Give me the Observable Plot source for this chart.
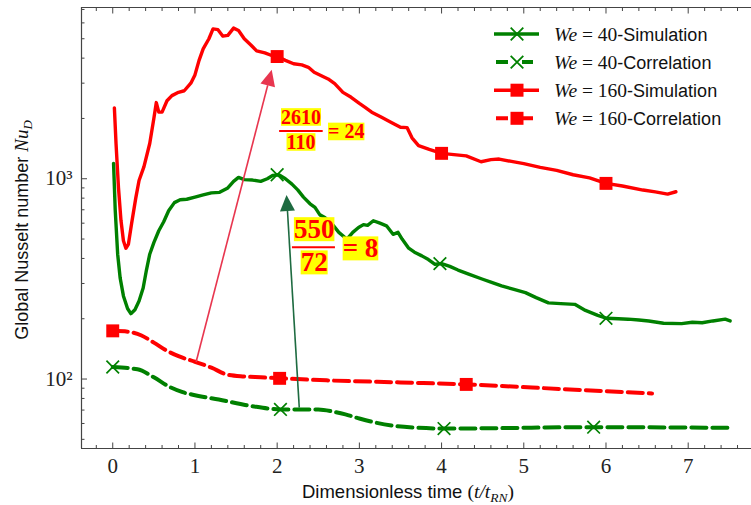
<!DOCTYPE html>
<html><head><meta charset="utf-8">
<script src="https://cdn.jsdelivr.net/npm/d3@7"></script>
<script src="https://cdn.jsdelivr.net/npm/@observablehq/plot@0.6"></script>
<style>
body{margin:0;background:#fff;}
#chart svg{display:block;}
g[aria-label="x-axis tick label"] text, g[aria-label="y-axis tick label"] text{font-family:"Liberation Serif",serif;font-size:21px;fill:#222;}
</style></head><body><div id="chart"></div>
<script>
// ---- data ----
const redSimX = [0.02,0.04,0.07,0.10,0.13,0.16,0.19,0.23,0.28,0.32,0.38,0.45,0.50,0.53,0.56,0.60,0.66,0.72,0.80,0.87,0.95,1.00,1.05,1.10,1.17,1.22,1.28,1.34,1.40,1.47,1.53,1.60,1.68,1.75,1.85,1.95,2.00,2.10,2.20,2.30,2.38,2.45,2.55,2.62,2.70,2.80,2.90,3.00,3.07,3.15,3.27,3.40,3.50,3.58,3.64,3.72,3.85,4.00,4.15,4.30,4.48,4.60,4.70,4.85,5.00,5.20,5.40,5.60,5.80,6.00,6.20,6.45,6.60,6.75,6.85];
const redSimY = [2258,1500,900,620,490,450,470,600,800,980,1150,1500,2000,2400,2150,2150,2450,2600,2700,2750,3000,3300,3900,4450,5000,5600,5550,5150,5200,5650,5500,5000,4650,4350,4250,4100,4074,3900,3750,3700,3600,3400,3250,3150,2985,2700,2550,2380,2273,2150,2026,1900,1806,1800,1600,1462,1400,1339,1320,1300,1216,1245,1254,1220,1190,1139,1100,1047,1010,948,920,878,860,838,861];
const greenSimX = [0.01,0.03,0.06,0.09,0.13,0.18,0.22,0.27,0.32,0.37,0.41,0.45,0.50,0.56,0.62,0.68,0.75,0.82,0.90,1.00,1.10,1.20,1.30,1.40,1.47,1.53,1.60,1.70,1.80,1.88,1.95,2.02,2.10,2.18,2.25,2.32,2.40,2.46,2.52,2.58,2.66,2.75,2.85,2.92,2.99,3.05,3.10,3.17,3.25,3.33,3.41,3.47,3.52,3.60,3.67,3.76,3.84,3.92,4.00,4.10,4.20,4.33,4.50,4.60,4.73,4.88,5.02,5.15,5.30,5.45,5.62,5.75,5.90,6.01,6.15,6.27,6.40,6.52,6.70,6.92,7.05,7.17,7.30,7.45,7.51];
const greenSimY = [1193,700,420,320,260,225,212,222,245,285,350,420,480,550,610,692,760,785,790,810,830,850,855,900,970,1015,990,985,970,1000,1040,1047,1000,940,880,810,750,719,660,641,600,540,499,540,571,590,585,617,600,582,528,540,500,450,430,412,395,374,377,365,350,334,315,305,292,280,270,255,240,238,236,220,208,201,200,199,197,195,190,189,192,191,195,199,195];
const redCorX = [0.00,0.20,0.35,0.50,0.65,0.80,1.00,1.20,1.40,1.60,1.80,2.05,2.60,3.50,4.30,5.50,6.56];
const redCorY = [174,172,165,152,139,130,122,114,105,103,102,100.8,98.5,96.2,94,89,84.8];
const greenCorX = [0.00,0.30,0.50,0.70,0.85,1.00,1.29,1.69,2.05,2.50,2.70,2.83,3.00,3.15,3.40,3.72,4.04,5.87,7.49];
const greenCorY = [114.8,111.8,102,91,86,83,79,73.3,70.5,70.5,68.5,66.6,63.5,61.2,58.5,57.1,56.6,57.5,57.1];

// marker positions
const redSimMX = [2.00, 4.00, 6.00],  redSimMY = [4074, 1339, 948];
const greenSimMX = [2.00, 3.98, 6.00], greenSimMY = [1047, 377, 201];
const redCorMX = [0.00, 2.03, 4.30], redCorMY = [174, 100.8, 94];
const greenCorMX = [0.00, 2.04, 4.03, 5.85], greenCorMY = [114.8, 70.5, 56.6, 57.5];

// legend
const legendWe = ["40", "40", "160", "160"];
const legendKind = ["Simulation", "Correlation", "Simulation", "Correlation"];

// annotation arrows (tail -> tip)
const arrowX1 = [1.02, 2.275], arrowY1 = [121, 71.6];
const arrowX2 = [1.94, 2.12],  arrowY2 = [3479, 825];

// annotation fractions
const annNum = ["2610", "550"], annDen = ["110", "72"], annRes = ["= 24", "= 8"];
const annX = [2.29, 2.45], annY = [1730, 455];
const annBarX1 = [2.03, 2.186], annBarX2 = [2.56, 2.709];

// ticks
const xMajor = [0,1,2,3,4,5,6,7];
const xTickLabels = ["0","1","2","3","4","5","6","7"];
const xMinor = d3.range(-1, 39).map(i => +(i*0.2).toFixed(1)).filter(v => Math.abs(v - Math.round(v)) > 1e-6);
const yMajor = [100, 1000];
const yTickLabels = ["10\u00B2", "10\u00B3"];
const yMinor = [50,60,70,80,90,200,300,400,500,600,700,800,900,2000,3000,4000,5000,6000,7000];

const xDomain = [-0.38, 7.77];
const yDomain = [45, 7160];

// ---- build ----
const rows = (xs, ys) => xs.map((x, i) => ({x, y: ys[i]}));
const arrows = arrowX1.map((x1, i) => ({x1, y1: arrowY1[i], x2: arrowX2[i], y2: arrowY2[i], color: ["#e8364f", "#1e6b41"][i]}));
const ann = annNum.map((n, i) => ({num: n, den: annDen[i], res: annRes[i], x: annX[i], y: annY[i], bx1: annBarX1[i], bx2: annBarX2[i]}));

const RED = "#ff0000", GREEN = "#008000";
const dash = "15,6";

function arrowRender(index, scales, values) {
  const g = d3.create("svg:g");
  for (const i of index) {
    const x1 = values.x1[i], y1 = values.y1[i], x2 = values.x2[i], y2 = values.y2[i];
    const dx = x2 - x1, dy = y2 - y1, L = Math.hypot(dx, dy), ux = dx / L, uy = dy / L;
    const hl = 16, hw = 7.5;
    const bx = x2 - ux * hl, by = y2 - uy * hl;
    const c = arrows[i].color;
    g.append("line").attr("x1", x1).attr("y1", y1).attr("x2", bx).attr("y2", by)
      .attr("stroke", c).attr("stroke-width", 1.6);
    g.append("path").attr("d", `M${x2},${y2}L${bx - uy * hw},${by + ux * hw}L${bx + uy * hw},${by - ux * hw}Z`).attr("fill", c);
  }
  return g.node();
}

const annFont = "Liberation Serif";
const plot = Plot.plot({
  width: 751, height: 505,
  marginLeft: 81, marginRight: 0, marginTop: 7, marginBottom: 57,
  x: {domain: xDomain, label: null},
  y: {type: "log", domain: yDomain, label: null},
  style: {background: "white", fontFamily: "Liberation Serif", overflow: "visible"},
  marks: [
    // spines
    Plot.ruleX([xDomain[0]], {stroke: "#444", strokeWidth: 1.2}),
    Plot.ruleY(yDomain, {stroke: "#444", strokeWidth: 1.2}),
    // inward ticks
    Plot.axisX({anchor: "bottom", ticks: xMinor, tickSize: -3, tickFormat: () => "", stroke: "#444"}),
    Plot.axisX({anchor: "bottom", ticks: xMajor, tickSize: -5.5, tickFormat: () => "", stroke: "#444"}),
    Plot.axisX({anchor: "top", ticks: xMinor, tickSize: -3, tickFormat: () => "", stroke: "#444"}),
    Plot.axisX({anchor: "top", ticks: xMajor, tickSize: -5.5, tickFormat: () => "", stroke: "#444"}),
    Plot.axisY({anchor: "left", ticks: yMinor, tickSize: -3.5, tickFormat: () => "", stroke: "#444"}),
    Plot.axisY({anchor: "left", ticks: yMajor, tickSize: -6, tickFormat: () => "", stroke: "#444"}),
    // tick labels
    Plot.axisX({anchor: "bottom", ticks: xMajor, tickSize: 0, tickPadding: 10, fontSize: 21, tickFormat: d => xTickLabels[xMajor.indexOf(d)]}),
    Plot.axisY({anchor: "left", ticks: yMajor, tickSize: 0, tickPadding: 9, fontSize: 21, tickFormat: d => yTickLabels[yMajor.indexOf(d)]}),
    // correlation lines
    Plot.line(rows(redCorX, redCorY), {x: "x", y: "y", stroke: RED, strokeWidth: 4, strokeDasharray: dash, curve: "monotone-x"}),
    Plot.line(rows(greenCorX, greenCorY), {x: "x", y: "y", stroke: GREEN, strokeWidth: 4, strokeDasharray: dash, curve: "monotone-x"}),
    // simulation lines
    Plot.line(rows(redSimX, redSimY), {x: "x", y: "y", stroke: RED, strokeWidth: 3.4, strokeLinejoin: "round"}),
    Plot.line(rows(greenSimX, greenSimY), {x: "x", y: "y", stroke: GREEN, strokeWidth: 3.4, strokeLinejoin: "round"}),
    // markers
    Plot.dot(rows(redSimMX, redSimMY), {x: "x", y: "y", symbol: "square", fill: RED, r: 7.3}),
    Plot.dot(rows(redCorMX, redCorMY), {x: "x", y: "y", symbol: "square", fill: RED, r: 7.3}),
    Plot.dot(rows(greenSimMX, greenSimMY), {x: "x", y: "y", symbol: "times", stroke: GREEN, strokeWidth: 1.7, r: 5.8}),
    Plot.dot(rows(greenCorMX, greenCorMY), {x: "x", y: "y", symbol: "times", stroke: GREEN, strokeWidth: 1.7, r: 5.8}),
    // arrows
    Plot.link(arrows, {x1: "x1", y1: "y1", x2: "x2", y2: "y2", stroke: "color", render: arrowRender}),
    // fraction annotations
    Plot.ruleY(ann, {y: "y", x1: "bx1", x2: "bx2", stroke: RED, strokeWidth: 2}),
    Plot.text(ann.slice(0, 1), {x: "x", y: "y", text: "num", dy: -13.5, fill: RED, fontWeight: "bold", fontSize: 20, fontFamily: annFont, ariaDescription: "annot"}),
    Plot.text(ann.slice(0, 1), {x: "x", y: "y", text: "den", dy: 11.5, fill: RED, fontWeight: "bold", fontSize: 20, fontFamily: annFont, ariaDescription: "annot"}),
    Plot.text(ann.slice(0, 1), {x: "x", y: "y", text: "res", dx: 27, dy: 1, textAnchor: "start", fill: RED, fontWeight: "bold", fontSize: 20, fontFamily: annFont, ariaDescription: "annot"}),
    Plot.text(ann.slice(1, 2), {x: "x", y: "y", text: "num", dy: -17.7, fill: RED, fontWeight: "bold", fontSize: 27, fontFamily: annFont, ariaDescription: "annot"}),
    Plot.text(ann.slice(1, 2), {x: "x", y: "y", text: "den", dy: 15.5, fill: RED, fontWeight: "bold", fontSize: 27, fontFamily: annFont, ariaDescription: "annot"}),
    Plot.text(ann.slice(1, 2), {x: "x", y: "y", text: "res", dx: 28.5, dy: 1.5, textAnchor: "start", fill: RED, fontWeight: "bold", fontSize: 27, fontFamily: annFont, ariaDescription: "annot"})
  ]
});

document.getElementById("chart").append(plot);
const svg = d3.select(plot);

// yellow highlight behind annotation texts
svg.selectAll('g[aria-description="annot"] text').each(function () {
  const b = this.getBBox();
  const r = document.createElementNS("http://www.w3.org/2000/svg", "rect");
  r.setAttribute("x", b.x); r.setAttribute("y", b.y + b.height * 0.1);
  r.setAttribute("width", b.width); r.setAttribute("height", b.height * 0.8);
  r.setAttribute("fill", "#ffff00");
  const t = this.getAttribute("transform"); if (t) r.setAttribute("transform", t);
  this.parentNode.insertBefore(r, this);
});

// legend
const lg = svg.append("g").attr("text-anchor", "start");
const symSquare = d3.symbol(d3.symbolSquare, 169)();
const symTimes = d3.symbol(d3.symbolTimes, 105.6)();
legendWe.forEach((we, i) => {
  const y = 34 + i * 28.1;
  const isRed = i >= 2, isCor = legendKind[i] === "Correlation";
  const c = isRed ? RED : GREEN;
  if (isCor) {
    lg.append("path").attr("d", `M496,${y}H508M522,${y}H533`).attr("stroke", c).attr("stroke-width", 4).attr("fill", "none");
  } else {
    lg.append("line").attr("x1", 494).attr("x2", 539).attr("y1", y).attr("y2", y).attr("stroke", c).attr("stroke-width", 3.6);
  }
  if (isRed) lg.append("path").attr("d", symSquare).attr("transform", `translate(517,${y})`).attr("fill", c);
  else lg.append("path").attr("d", symTimes).attr("transform", `translate(517,${y})`).attr("stroke", c).attr("stroke-width", 1.8).attr("fill", "none");
  const t = lg.append("text").attr("x", 554).attr("y", y).attr("dy", "0.35em").attr("font-size", 19.5).attr("fill", "#111").attr("text-anchor", "start");
  t.append("tspan").attr("font-family", "Liberation Serif").attr("font-style", "italic").text("We");
  t.append("tspan").attr("font-family", "Liberation Serif").text(" = " + we);
  t.append("tspan").attr("font-family", "Liberation Sans").attr("font-size", 18).text("-" + legendKind[i]);
});

// axis titles
const yl = svg.append("text").attr("transform", "translate(28,230) rotate(-90)").attr("text-anchor", "middle")
  .attr("font-family", "Liberation Sans").attr("font-size", 18).attr("fill", "#111");
yl.append("tspan").text("Global Nusselt number ");
yl.append("tspan").attr("font-family", "Liberation Serif").attr("font-style", "italic").attr("font-size", 19).text("Nu");
yl.append("tspan").attr("font-family", "Liberation Serif").attr("font-style", "italic").attr("font-size", 13).attr("dy", 4).text("D");

const xl = svg.append("text").attr("x", 408).attr("y", 498).attr("text-anchor", "middle")
  .attr("font-family", "Liberation Sans").attr("font-size", 18.5).attr("fill", "#111");
xl.append("tspan").text("Dimensionless time ");
xl.append("tspan").attr("font-family", "Liberation Serif").attr("font-size", 19.5).text("(");
xl.append("tspan").attr("font-family", "Liberation Serif").attr("font-style", "italic").attr("font-size", 19.5).text("t/t");
xl.append("tspan").attr("font-family", "Liberation Serif").attr("font-style", "italic").attr("font-size", 13.5).attr("dy", 4).text("RN");
xl.append("tspan").attr("font-family", "Liberation Serif").attr("font-size", 19.5).attr("dy", -4).text(")");
</script></body></html>
